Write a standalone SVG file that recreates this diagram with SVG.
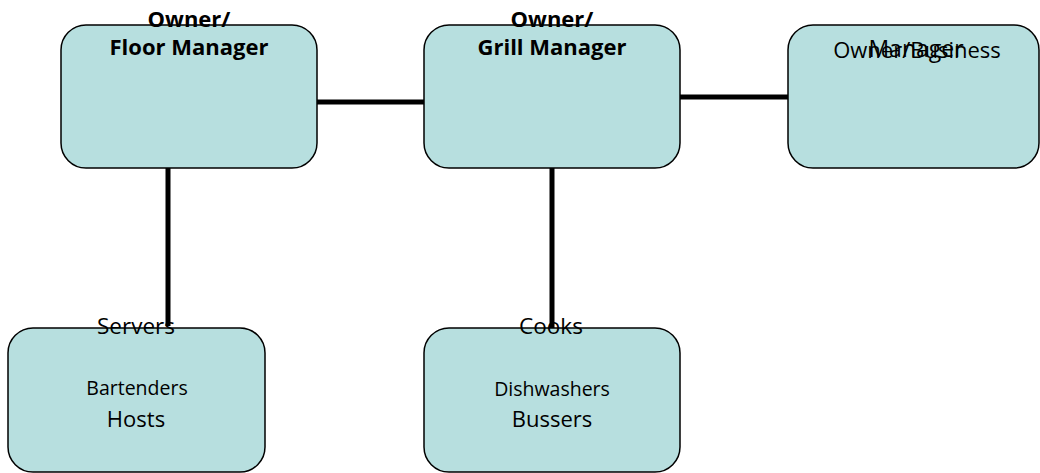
<svg xmlns="http://www.w3.org/2000/svg" width="1040" height="473" viewBox="0 0 1040 473">
<style>
.box{fill:#b7dfdf;stroke:#000;stroke-width:1.5}
.t{font-family:"Open Sans","Liberation Sans",sans-serif;fill:#000;text-anchor:middle}
.b{font-weight:bold;font-size:22px}
.conn{stroke:#000;stroke-width:5;fill:none}
</style>
<rect width="1040" height="473" fill="#fff"/>
<g id="connectors">
<line class="conn" x1="317" y1="102" x2="424" y2="102"/>
<line class="conn" x1="680" y1="97" x2="788" y2="97"/>
<line class="conn" x1="168" y1="168" x2="168" y2="326"/>
<line class="conn" x1="552" y1="168" x2="552" y2="330"/>
</g>
<g id="floor-manager">
<rect class="box" x="61" y="25" width="256" height="143" rx="25"/>
<text class="t b" x="189" y="27">Owner/</text>
<text class="t b" x="189" y="55">Floor Manager</text>
</g>
<g id="grill-manager">
<rect class="box" x="424" y="25" width="256" height="143" rx="25"/>
<text class="t b" x="552" y="27">Owner/</text>
<text class="t b" x="552" y="55">Grill Manager</text>
</g>
<g id="business-manager">
<rect class="box" x="788" y="25" width="251" height="143" rx="25"/>
<text class="t" x="917" y="58" font-size="22">Owner/Business</text>
<text class="t" x="916" y="57" font-size="23">Manager</text>
</g>
<g id="servers">
<rect class="box" x="8" y="328" width="257" height="144" rx="25"/>
<text class="t" x="136" y="334" font-size="22.5">Servers</text>
<text class="t" x="137" y="395" font-size="19.5">Bartenders</text>
<text class="t" x="136" y="427" font-size="22">Hosts</text>
</g>
<g id="cooks">
<rect class="box" x="424" y="328" width="256" height="144" rx="25"/>
<text class="t" x="551" y="334" font-size="22.5">Cooks</text>
<text class="t" x="552" y="396" font-size="19.5">Dishwashers</text>
<text class="t" x="552" y="427" font-size="22">Bussers</text>
</g>
</svg>
